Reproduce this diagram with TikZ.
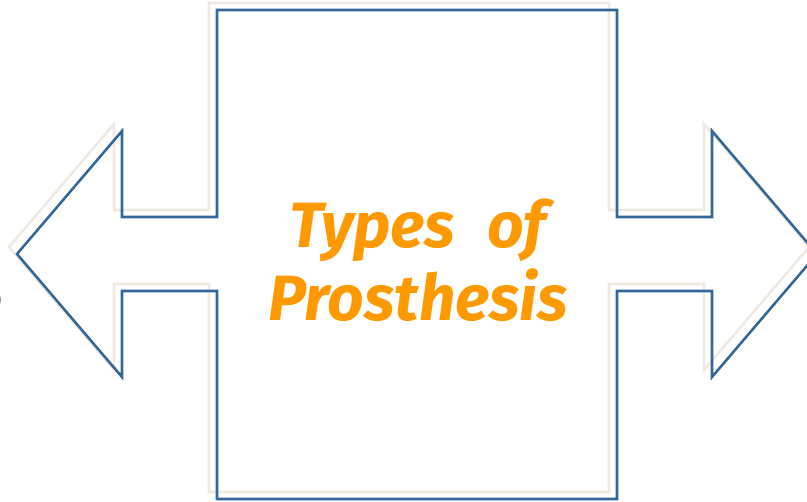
\documentclass[tikz,border=0pt]{standalone}
\usepackage{fontspec}
\usepackage{xcolor}
\usepackage{tikz}
\usetikzlibrary{
  positioning,
  calc
}
\newfontfamily\titlefont[WordSpace=2.2]{Fira Sans}
\definecolor{tpLine}{HTML}{336699}
\definecolor{tpShade}{HTML}{EEEAE2}
\definecolor{tpText}{HTML}{FF9900}
\definecolor{tpDark}{HTML}{1F3864}
\tikzset{
  outline/.style={draw=tpLine, line width=1.9pt, line join=miter},
  shadeline/.style={draw=tpShade, line width=1.9pt, line join=miter},
  title/.style={font=\titlefont\bfseries\itshape\fontsize{48}{55}\selectfont,
    text=tpText, align=center, inner sep=0pt},
  cutoff/.style={font=\titlefont\bfseries\fontsize{72}{80}\selectfont,
    text=tpDark, inner sep=0pt}
}
\newcommand\arrowoutline{(217,10) -- (617,10) -- (617,217) -- (712,217) -- (712,131)
  -- (817,254) -- (712,377) -- (712,291) -- (617,291) -- (617,499) -- (217,499)
  -- (217,291) -- (122,291) -- (122,377) -- (17,254) -- (122,131) -- (122,217)
  -- (217,217) -- cycle}

\begin{document}
\begin{tikzpicture}[x=0.75pt, y=-0.75pt]
  \useasboundingbox (0,0) rectangle (807,502);
  % shadow first, then the outline on top
  \draw[shadeline, shift={(-8,-7)}] \arrowoutline;
  \draw[outline] \arrowoutline;
  \coordinate (centre) at (418,260);
  \node[title] (types) at (centre) {Types of\\Prosthesis};
  \node[cutoff, anchor=east] (edge) at (3,290) {s};
\end{tikzpicture}
\end{document}
